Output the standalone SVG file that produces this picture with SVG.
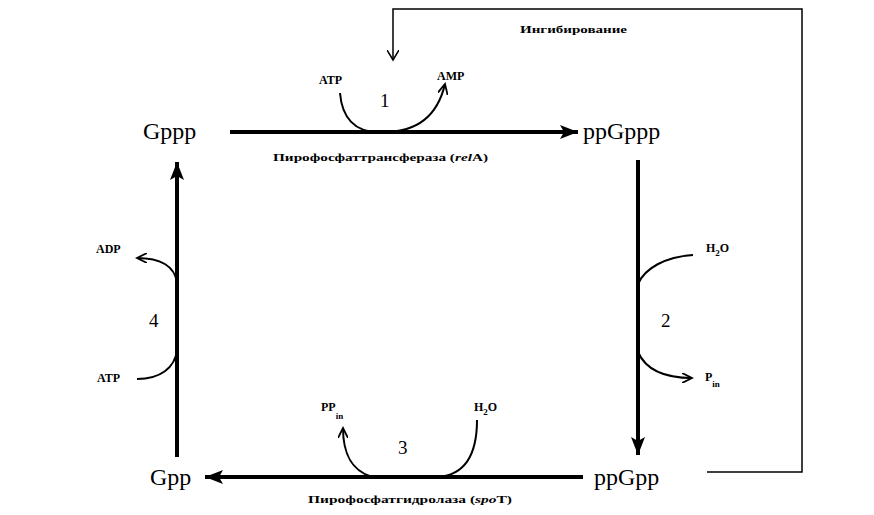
<svg xmlns="http://www.w3.org/2000/svg" width="874" height="515" viewBox="0 0 874 515">
<style>
.node{font-family:"Liberation Serif","DejaVu Serif",serif;font-size:24px;fill:#000}
.lbl{font-family:"Liberation Serif","DejaVu Serif",serif;font-size:10px;font-weight:bold;fill:#000}
.chem{font-family:"Liberation Serif","DejaVu Serif",serif;font-size:12px;font-weight:bold;fill:#000}
.sub{font-size:9px;fill:#000}
.num{font-family:"Liberation Serif","DejaVu Serif",serif;font-size:19px;fill:#000}
.main{stroke:#000;stroke-width:4;fill:none}
.side{stroke:#000;stroke-width:2;fill:none}
.fb{stroke:#000;stroke-width:1.5;fill:none}
</style>
<defs>
<marker id="big" markerUnits="userSpaceOnUse" markerWidth="20" markerHeight="14" refX="18" refY="7" orient="auto">
<path d="M0,0 L18,7 L0,14 L4,7 z" fill="#000"/>
</marker>
<marker id="small" markerUnits="userSpaceOnUse" markerWidth="12" markerHeight="10" refX="10" refY="5" orient="auto">
<path d="M0,0 L10,5 L0,10" fill="none" stroke="#000" stroke-width="1.8"/>
</marker>
<marker id="fbm" markerUnits="userSpaceOnUse" markerWidth="12" markerHeight="12" refX="10" refY="6" orient="auto">
<path d="M0,0 L10,6 L0,12" fill="none" stroke="#000" stroke-width="1.5"/>
</marker>
</defs>
<rect width="874" height="515" fill="#fff"/>
<g id="node-gppp"><text class="node" x="143" y="139">Gppp</text></g>
<g id="node-ppgppp"><text class="node" x="583" y="139">ppGppp</text></g>
<g id="node-ppgpp"><text class="node" x="594" y="485">ppGpp</text></g>
<g id="node-gpp"><text class="node" x="150" y="485">Gpp</text></g>
<g id="connectors">
<path class="main" d="M230,132 L578,132" marker-end="url(#big)"/>
<path class="main" d="M638,160 L638,455" marker-end="url(#big)"/>
<path class="main" d="M583,477 L205,477" marker-end="url(#big)"/>
<path class="main" d="M177,457 L177,162" marker-end="url(#big)"/>
<path class="side" d="M340,93 C342,118 355,132 378,132"/>
<path class="side" d="M384,132 C415,132 437,118 445,84" marker-end="url(#small)"/>
<path class="side" d="M693,255 C665,257 645,268 638,284"/>
<path class="side" d="M638,352 C645,368 662,378 692,378" marker-end="url(#small)"/>
<path class="side" d="M372,477 C350,470 343,452 343,428" marker-end="url(#small)"/>
<path class="side" d="M477,420 C477,455 465,475 438,477"/>
<path class="side" d="M177,283 C175,266 160,258 137,258" marker-end="url(#small)"/>
<path class="side" d="M137,379 C160,379 175,368 177,350"/>
<path class="fb" d="M707,472 L802,472 L802,9 L393,9 L393,60" marker-end="url(#fbm)"/>
</g>
<g id="labels">
<text class="lbl" x="520" y="33" textLength="107" lengthAdjust="spacingAndGlyphs">Ингибирование</text>
<text class="chem" x="319" y="84">ATP</text>
<text class="chem" x="437" y="80">AMP</text>
<text class="num" x="380" y="107">1</text>
<text class="lbl" x="273" y="161" textLength="215" lengthAdjust="spacingAndGlyphs">Пирофосфаттрансфераза (<tspan font-style="italic">rel</tspan>A)</text>
<text class="chem" x="706" y="252">H<tspan class="sub" dy="4">2</tspan><tspan dy="-4">O</tspan></text>
<text class="num" x="661" y="327">2</text>
<text class="chem" x="705" y="381">P<tspan class="sub" dy="6">in</tspan></text>
<text class="chem" x="321" y="411">PP<tspan class="sub" dy="8">in</tspan></text>
<text class="chem" x="474" y="411">H<tspan class="sub" dy="4">2</tspan><tspan dy="-4">O</tspan></text>
<text class="num" x="398" y="454">3</text>
<text class="lbl" x="308" y="503" textLength="204" lengthAdjust="spacingAndGlyphs">Пирофосфатгидролаза (<tspan font-style="italic">spo</tspan>T)</text>
<text class="chem" x="96" y="253">ADP</text>
<text class="num" x="149" y="327">4</text>
<text class="chem" x="97" y="382">ATP</text>
</g>
</svg>
